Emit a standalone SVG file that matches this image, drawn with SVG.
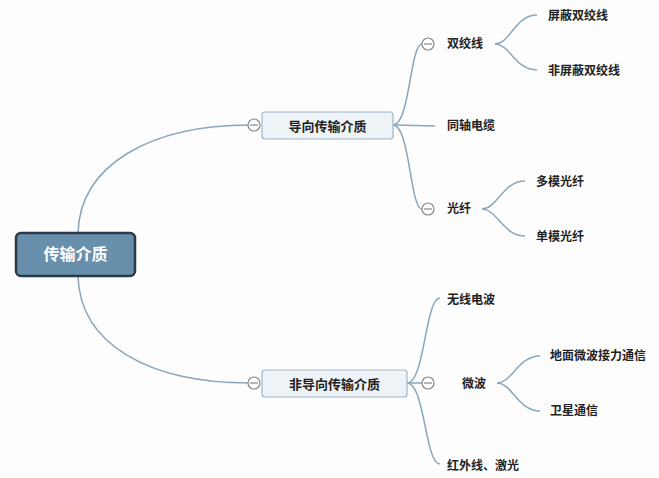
<svg xmlns="http://www.w3.org/2000/svg" width="659" height="478" viewBox="0 0 659 478">
<style>
.c{fill:none;stroke:#8aa6bc;stroke-width:1.5}
.t{font-family:"Noto Sans CJK SC",sans-serif;font-size:12px;font-weight:bold;fill:#222}
.m{font-family:"Noto Sans CJK SC",sans-serif;font-size:13px;font-weight:bold;fill:#222}
.box{fill:#eef3f8;stroke:#9fb6c8;stroke-width:1.2}
.col{fill:#fff;stroke:#888;stroke-width:1.2}
.colm{stroke:#888;stroke-width:1.2}
</style>
<rect width="659" height="478" fill="#fdfdfd"/>
<g id="connectors">
<path class="c" d="M78,233 C80,165 150,125 250,125"/>
<path class="c" d="M78,276 C80,345 150,383 250,383"/>
<path class="c" d="M393,125 C410,125 410,44 422,44"/>
<path class="c" d="M393,125 L435,126"/>
<path class="c" d="M393,125 C410,125 410,209 422,209"/>
<path class="c" d="M495,44 C510,44 515,15 537,15"/>
<path class="c" d="M495,44 C510,44 515,70 537,70"/>
<path class="c" d="M482,209 C497,209 503,181 525,181"/>
<path class="c" d="M482,209 C497,209 503,236 525,236"/>
<path class="c" d="M407,383 C425,383 425,298 440,298"/>
<path class="c" d="M407,383 L422,383"/>
<path class="c" d="M407,383 C425,383 425,464 440,464"/>
<path class="c" d="M497,383 C512,383 518,356 540,356"/>
<path class="c" d="M497,383 C512,383 518,411 540,411"/>
</g>
<g id="root">
<rect x="16" y="233" width="119" height="43" rx="5" fill="#6890ad" stroke="#2a3a48" stroke-width="2.5"/>
<text x="75.5" y="260" text-anchor="middle" font-family="Noto Sans CJK SC,sans-serif" font-size="16" font-weight="bold" fill="#fff">传输介质</text>
</g>
<g id="guided">
<rect class="box" x="262" y="112" width="131" height="27" rx="3"/>
<text class="m" x="327.5" y="130.5" text-anchor="middle">导向传输介质</text>
<circle class="col" cx="254" cy="125" r="6"/><line class="colm" x1="250" y1="125" x2="258" y2="125"/>
</g>
<g id="unguided">
<rect class="box" x="262" y="370" width="145" height="27" rx="3"/>
<text class="m" x="334.5" y="388.5" text-anchor="middle">非导向传输介质</text>
<circle class="col" cx="254" cy="383" r="6"/><line class="colm" x1="250" y1="383" x2="258" y2="383"/>
</g>
<g id="twisted"><circle class="col" cx="428" cy="44" r="6"/><line class="colm" x1="424" y1="44" x2="432" y2="44"/><text class="t" x="447" y="48">双绞线</text></g>
<g id="stp"><text class="t" x="548" y="20">屏蔽双绞线</text></g>
<g id="utp"><text class="t" x="548" y="75">非屏蔽双绞线</text></g>
<g id="coax"><text class="t" x="447" y="130">同轴电缆</text></g>
<g id="fiber"><circle class="col" cx="428" cy="209" r="6"/><line class="colm" x1="424" y1="209" x2="432" y2="209"/><text class="t" x="447" y="213">光纤</text></g>
<g id="mmf"><text class="t" x="536" y="186">多模光纤</text></g>
<g id="smf"><text class="t" x="536" y="241">单模光纤</text></g>
<g id="radio"><text class="t" x="447" y="304">无线电波</text></g>
<g id="micro"><circle class="col" cx="428" cy="383" r="6"/><line class="colm" x1="424" y1="383" x2="432" y2="383"/><text class="t" x="462" y="388">微波</text></g>
<g id="relay"><text class="t" x="550" y="360">地面微波接力通信</text></g>
<g id="sat"><text class="t" x="550" y="415">卫星通信</text></g>
<g id="ir"><text class="t" x="447" y="470">红外线、激光</text></g>
</svg>
